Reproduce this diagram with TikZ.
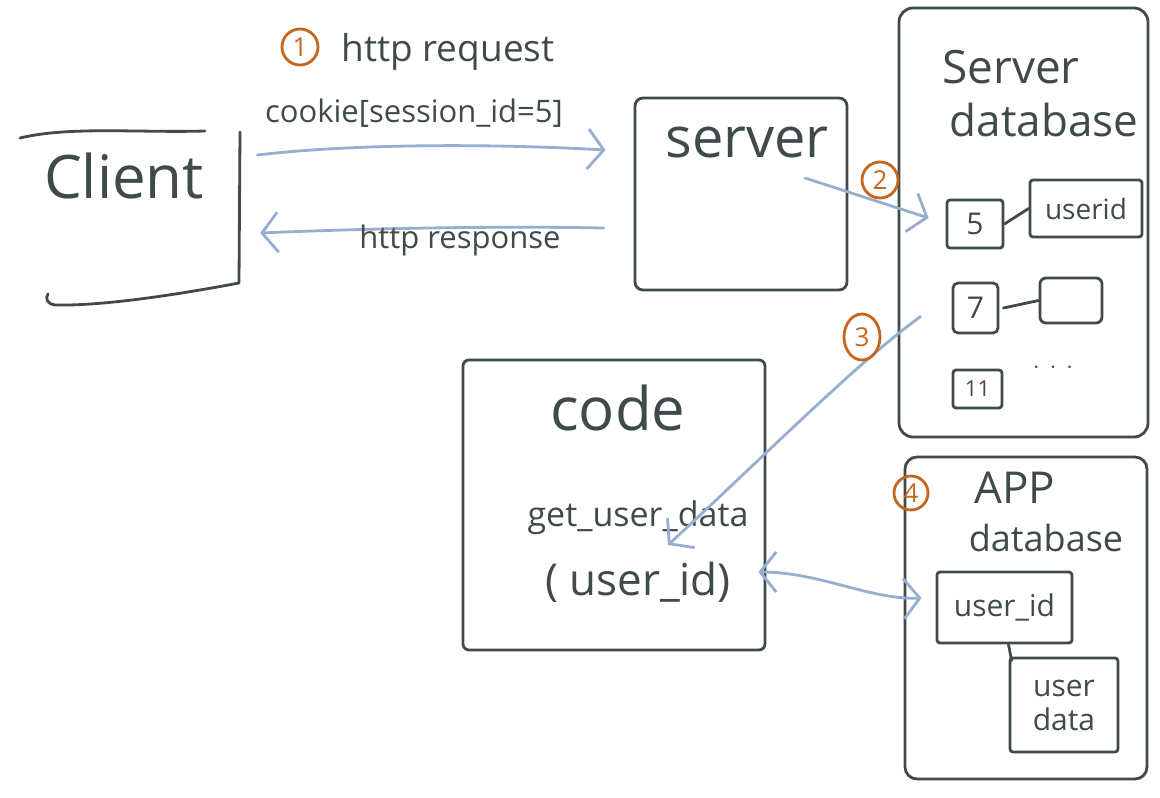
\documentclass[tikz,border=0pt]{standalone}
\usepackage{fontspec}
\setmainfont{Open Sans}
\usetikzlibrary{arrows.meta,calc,shapes.geometric}
\definecolor{ink}{HTML}{3F4B4B}
\definecolor{flowc}{HTML}{96AED0}
\definecolor{markc}{HTML}{C6651D}
\newcommand\hwsize[1]{\fontsize{#1}{#1}\selectfont}
\begin{document}
\begin{tikzpicture}[x=1pt,y=-1pt,
  inkline/.style={draw=ink,line width=2.8pt,line cap=round,line join=round},
  box/.style={inkline,rectangle,rounded corners=8pt,inner sep=0pt},
  area/.style={rectangle,inner sep=0pt},
  flow/.style={draw=flowc,line width=2.8pt,line cap=round,-{Straight Barb[length=16pt,width=40pt]}},
  flowboth/.style={draw=flowc,line width=2.8pt,line cap=round,{Straight Barb[length=16pt,width=40pt]}-{Straight Barb[length=16pt,width=40pt]}},
  txt/.style={text=ink,inner sep=0pt,align=center},
  num/.style={circle,draw=markc,line width=2.8pt,text=markc,minimum size=36pt,inner sep=0pt,font=\hwsize{26}},
]
\useasboundingbox[fill=white] (0,0) rectangle (1160,798);

% ---------- client ----------
\node[area,minimum width=220pt,minimum height=170pt] (client) at (130,217) {};
\draw[inkline] (20,138) .. controls (70,126) and (140,133) .. (205,131);
\draw[inkline] (240,132) -- (239,283) .. controls (170,296) and (100,306) .. (55,305) .. controls (47,304) and (45,298) .. (48,294);
\node[txt] (tclient) at (124,176) {\hwsize{60}Client};

% ---------- server ----------
\node[box,minimum width=212pt,minimum height=192pt] (server) at (741,194) {};
\node[txt] (tserver) at (747,143) {\hwsize{56}server};

% ---------- server database ----------
\node[box,rounded corners=14pt,minimum width=249pt,minimum height=429pt] (sdb) at (1023.5,222.5) {};
\node[txt] (tsdb1) at (1011,67) {\hwsize{46}Server};
\node[txt] (tsdb2) at (1044,120) {\hwsize{44}database};
\node[box,rounded corners=3pt,minimum width=56pt,minimum height=48pt,text=ink,font=\hwsize{30}] (k5) at (975,224) {5};
\node[box,rounded corners=3pt,minimum width=112pt,minimum height=57pt,text=ink,font=\hwsize{28}] (kuid) at (1086,208.5) {userid};
\node[box,rounded corners=5pt,minimum width=45pt,minimum height=50pt,text=ink,font=\hwsize{30}] (k7) at (975.5,308) {7};
\node[box,rounded corners=6pt,minimum width=62pt,minimum height=45pt] (kblank) at (1071,300.5) {};
\node[box,rounded corners=3pt,minimum width=49pt,minimum height=38pt,text=ink,font=\hwsize{22}] (k11) at (977.5,389) {11};
\node[txt] (kdots) at (1053,368) {\hwsize{40}$\cdot\,\cdot\,\cdot$};
\draw[inkline] (k5.east) -- (kuid.west);
\draw[inkline] (k7.east) ++(4,0) -- (kblank.west);

% ---------- code ----------
\node[box,rounded corners=6pt,minimum width=302pt,minimum height=290pt] (code) at (614,505) {};
\node[txt] (tcode) at (618,408) {\hwsize{60}code};
\node[txt] (tfunc1) at (638,518) {\hwsize{34}get\_user\_data};
\node[txt] (tfunc2) at (638,582) {\hwsize{44}( user\_id)};

% ---------- app database ----------
\node[box,rounded corners=12pt,minimum width=242pt,minimum height=322pt] (adb) at (1026,618) {};
\node[txt] (tadb1) at (1015,488) {\hwsize{44}APP};
\node[txt] (tadb2) at (1046,538) {\hwsize{36}database};
\node[box,rounded corners=3pt,minimum width=135pt,minimum height=71pt,text=ink,font=\hwsize{30}] (auid) at (1004.5,607.5) {user\_id};
\node[box,rounded corners=3pt,minimum width=108pt,minimum height=94pt,text=ink,font=\hwsize{30},align=center] (audata) at (1064,705) {user\\[4pt]data};
\draw[inkline] ($(auid.south)+(4,0)$) -- ($(audata.north west)+(3,4)$);

% ---------- connectors ----------
\draw[flow] ($(client.east)+(17,-62)$) .. controls (360,143) and (500,144) .. ($(server.west)+(-28,-44)$);
\draw[flow] ($(server.west)+(-30,34)$) .. controls (500,226) and (380,228) .. ($(client.east)+(20,16)$);
\draw[flow] ($(server.center)+(64,-16)$) -- ($(k5.west)+(-17,-6)$);
\draw[flow] ($(sdb.west)+(23,94)$) .. controls (860,360) and (760,460) .. ($(code.center)+(54,40)$);
\draw[flowboth] ($(code.east)+(-8,67)$) .. controls (820,572) and (870,600) .. ($(adb.west)+(18,-20)$);

% ---------- step marks ----------
\node[num] (m1) at (300,47) {1};
\node[num] (m2) at (880,180) {2};
\node[num,ellipse,minimum width=36pt,minimum height=46pt] (m3) at (862,337) {3};
\node[num,minimum size=34pt] (m4) at (911,493) {4};

% ---------- labels ----------
\node[txt] (lreq) at (448,52) {\hwsize{37}http request};
\node[txt] (lcookie) at (414,113) {\hwsize{31}cookie[session\_id=5]};
\node[txt] (lresp) at (460,240) {\hwsize{31}http response};
\end{tikzpicture}
\end{document}
